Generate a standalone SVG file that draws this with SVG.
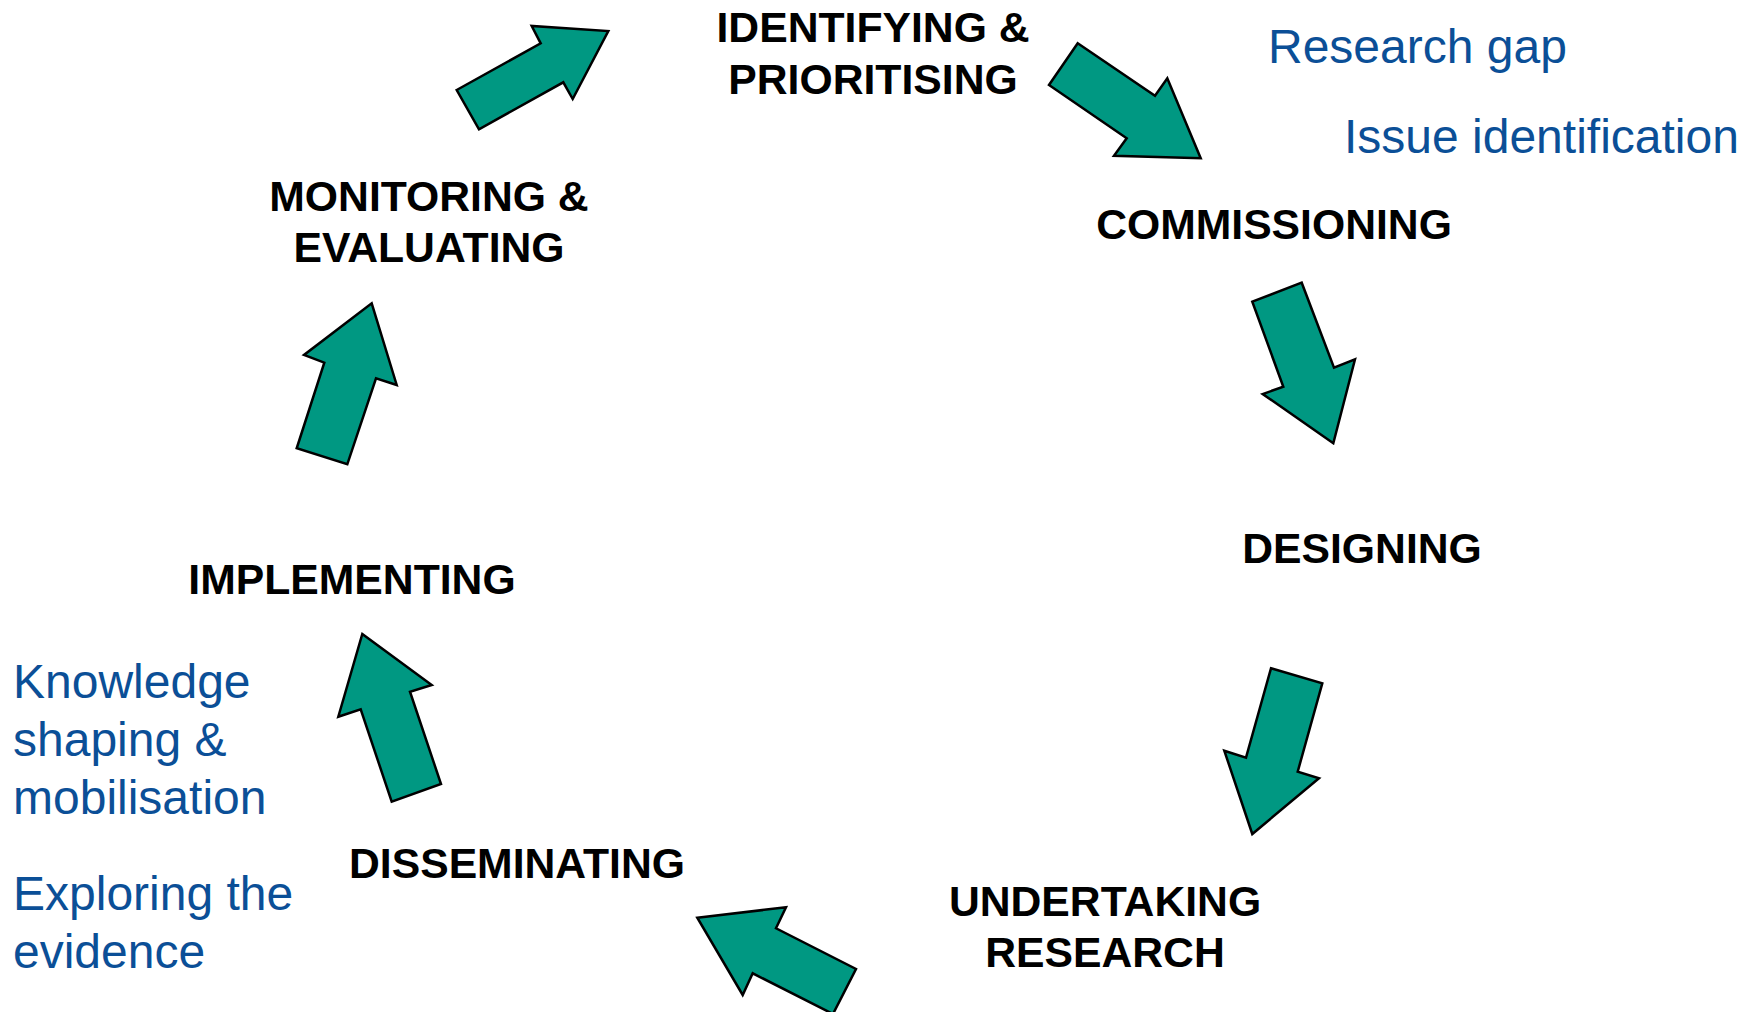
<svg xmlns="http://www.w3.org/2000/svg" width="1756" height="1012" viewBox="0 0 1756 1012">
  <style>
    .stage { font-family: "Liberation Sans", Arial, sans-serif; font-weight: bold; font-size: 42.7px; fill: #000000; text-anchor: middle; }
    .note { font-family: "Liberation Sans", Arial, sans-serif; font-size: 48px; fill: #0B4F97; }
    .flow { fill: #009882; stroke: #000000; stroke-width: 2.5; stroke-linejoin: miter; }
  </style>
  <rect width="1756" height="1012" fill="#ffffff"/>

  <!-- block arrows running clockwise round the cycle -->
  <g id="connectors">
    <polygon class="flow" points="456.7,90 540.7,43.3 531.7,26 608.3,31 572.7,99 563.3,82.3 479,129.3"/>
    <polygon class="flow" points="1077.7,43.3 1155,95.7 1167.3,78.3 1200.7,158.3 1114,155.7 1126.7,138.3 1049,85"/>
    <polygon class="flow" points="1252.3,301.7 1301.7,282.7 1334,367.7 1355,359.3 1333.3,443.3 1262.7,394 1283.3,386.7"/>
    <polygon class="flow" points="1271,668.3 1322.3,683.3 1297.7,771.7 1319,778.3 1252.3,834 1224.3,750.7 1246,757.7"/>
    <polygon class="flow" points="697.3,917.7 786,907.3 776,928.3 856,969 833,1014 752.7,973.3 742.7,995"/>
    <polygon class="flow" points="362.3,634 431.7,685 410,691.7 441,784 391.7,801.7 360.7,709.3 338.3,716.7"/>
    <polygon class="flow" points="371.7,303.3 396.7,385 376,378.3 347.3,464.3 296.7,448.3 324.3,362.7 304,355"/>
  </g>

  <!-- cycle stages -->
  <g id="identifying">
    <text class="stage" x="873" y="42">IDENTIFYING &amp;</text>
    <text class="stage" x="873" y="94">PRIORITISING</text>
  </g>
  <g id="commissioning">
    <text class="stage" x="1274" y="239">COMMISSIONING</text>
  </g>
  <g id="designing">
    <text class="stage" x="1362" y="563">DESIGNING</text>
  </g>
  <g id="undertaking">
    <text class="stage" x="1105" y="916">UNDERTAKING</text>
    <text class="stage" x="1105" y="967">RESEARCH</text>
  </g>
  <g id="disseminating">
    <text class="stage" x="517" y="878">DISSEMINATING</text>
  </g>
  <g id="implementing">
    <text class="stage" x="352" y="594">IMPLEMENTING</text>
  </g>
  <g id="monitoring">
    <text class="stage" x="429" y="211">MONITORING &amp;</text>
    <text class="stage" x="429" y="262">EVALUATING</text>
  </g>

  <!-- side notes -->
  <g id="research-gap">
    <text class="note" x="1268" y="63">Research gap</text>
  </g>
  <g id="issue-identification">
    <text class="note" x="1344" y="153">Issue identification</text>
  </g>
  <g id="knowledge-shaping">
    <text class="note" x="13" y="698">Knowledge</text>
    <text class="note" x="13" y="756">shaping &amp;</text>
    <text class="note" x="13" y="814">mobilisation</text>
  </g>
  <g id="exploring-evidence">
    <text class="note" x="13" y="910">Exploring the</text>
    <text class="note" x="13" y="968">evidence</text>
  </g>
</svg>
